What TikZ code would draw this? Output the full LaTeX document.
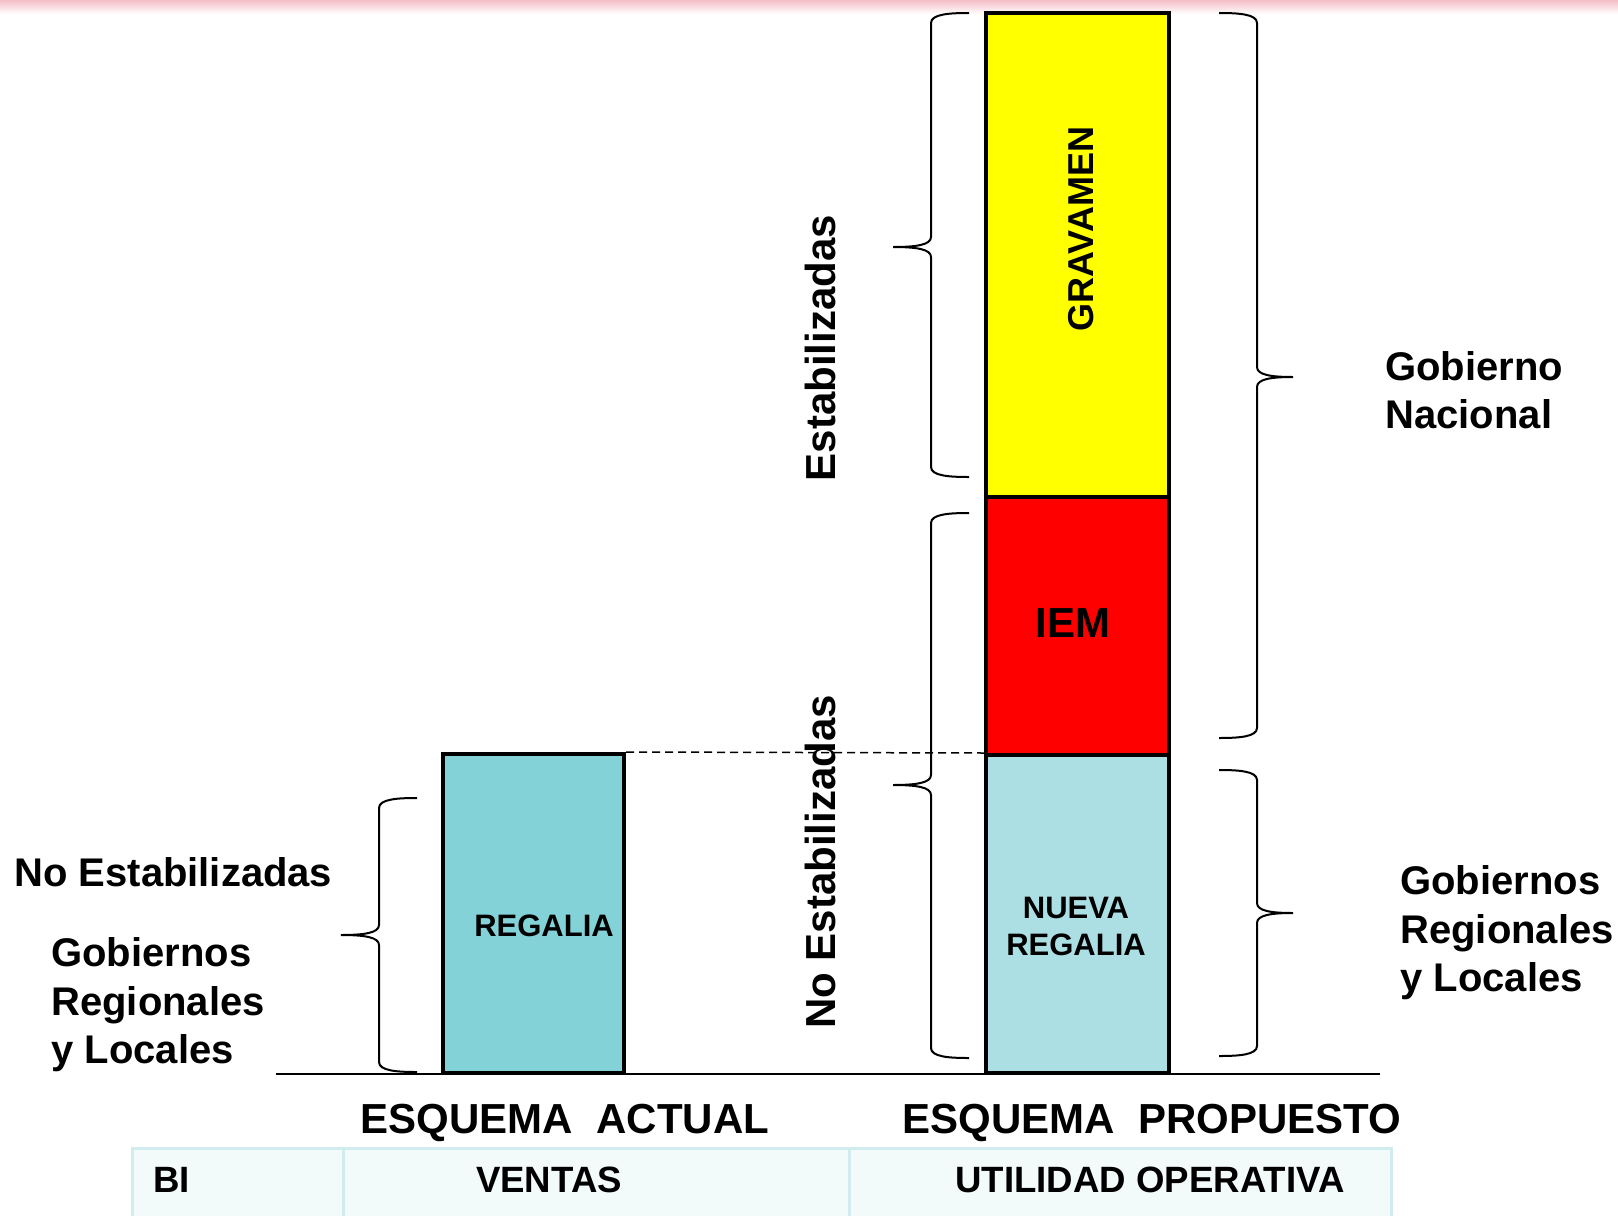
\documentclass[tikz,border=0pt]{standalone}
\usepackage{fontspec}
\setmainfont{Liberation Sans}
\definecolor{regA}{RGB}{131,210,216}
\definecolor{regB}{RGB}{172,223,227}
\definecolor{tabfill}{RGB}{243,250,250}
\definecolor{tabline}{RGB}{208,236,238}
\definecolor{topband}{RGB}{244,190,198}
\definecolor{pyellow}{RGB}{255,255,0}
\definecolor{pred}{RGB}{255,0,0}
\newcommand\MyBrace[6]{% xe xv xt yt ym yb
  \draw[brc] (#1,#4) .. controls ({0.5*#1+0.5*#2},#4) and (#2,{#4+1}) .. (#2,{#4+10})
    -- (#2,{#5-10}) .. controls (#2,{#5-2}) and ({0.6*#2+0.4*#3},#5) .. (#3,#5)
    .. controls ({0.6*#2+0.4*#3},#5) and (#2,{#5+2}) .. (#2,{#5+10})
    -- (#2,{#6-10}) .. controls (#2,{#6-1}) and ({0.5*#1+0.5*#2},#6) .. (#1,#6);}
\begin{document}
\begin{tikzpicture}[x=0.5pt,y=-0.5pt,
  bar/.style={draw=black, line width=2pt, inner sep=0pt},
  brc/.style={line width=1pt, draw=black},
  lbl/.style={font=\bfseries\fontsize{20}{24.25}\selectfont, inner sep=0pt, align=left, anchor=west},
  vlbl/.style={font=\bfseries\fontsize{21}{25}\selectfont, inner sep=0pt, rotate=90},
  intxt/.style={font=\bfseries\fontsize{15.5}{18.5}\selectfont, inner sep=0pt, align=center},
  head/.style={font=\bfseries\fontsize{21}{25}\selectfont, inner sep=0pt},
  cell/.style={draw=tabline, fill=tabfill, line width=1.5pt, inner sep=0pt, minimum height=46pt},
  tabtxt/.style={font=\bfseries\fontsize{18.3}{22}\selectfont, inner sep=0pt}]
\useasboundingbox (0,0) rectangle (1618,1216);
\clip (0,0) rectangle (1618,1216);
% top band
\shade[top color=topband, bottom color=white] (0,0) rectangle (1618,14);
% table
\node[cell, minimum width=105.5pt] (cbi) at (237.5,1194) {};
\node[cell, minimum width=253pt] (cven) at (596,1194) {};
\node[cell, minimum width=271pt] (cuti) at (1120,1194) {};
\node[tabtxt, anchor=west] (tbi) at (153,1180) {BI};
\node[tabtxt] (tven) at (549,1180) {VENTAS};
\node[tabtxt] (tuti) at (1150,1180) {UTILIDAD OPERATIVA};
% baseline
\coordinate (b0) at (276,1074);
\coordinate (b1) at (1380,1074);
\draw[line width=1pt] (b0) -- (b1);
% bars
\node[bar, fill=regA, minimum width=90.5pt, minimum height=159.5pt] (regalia) at (533.5,913.5) {};
\node[bar, fill=pyellow, minimum width=91.5pt, minimum height=242pt] (grav) at (1077.5,255) {};
\node[bar, fill=pred, minimum width=91.5pt, minimum height=129pt] (iem) at (1077.5,626) {};
\node[bar, fill=regB, minimum width=91.5pt, minimum height=159pt] (nueva) at (1077.5,914) {};
\draw[dashed, line width=0.75pt, dash pattern=on 4pt off 2.5pt] (regalia.north east) -- (nueva.north west);
% bar texts
\node[intxt] (tregalia) at (544,926) {REGALIA};
\node[vlbl, font=\bfseries\fontsize{18}{22}\selectfont] (tgrav) at (1081,229) {GRAVAMEN};
\node[head] (tiem) at (1073,623) {IEM};
\node[intxt] (tnueva) at (1076,926) {NUEVA\\REGALIA};
% braces
\MyBrace{969}{931}{893}{13}{247}{477}
\MyBrace{969}{931}{893}{513}{785}{1058}
\MyBrace{417}{379}{341}{798}{935}{1072}
\MyBrace{1219}{1257}{1293}{13}{377}{738}
\MyBrace{1219}{1257}{1293}{770}{913}{1056}
% labels
\node[vlbl] (estab) at (820,348) {Estabilizadas};
\node[vlbl] (noestab) at (820,862) {No Estabilizadas};
\node[lbl] (lno) at (14,872) {No Estabilizadas};
\node[lbl] (lgob) at (51,1005) {Gobiernos\\Regionales\\y Locales};
\node[lbl] (rnac) at (1385,390) {Gobierno\\Nacional};
\node[lbl] (rgob) at (1400,933) {Gobiernos\\Regionales\\y Locales};
% headings
\node[head] (hact) at (565,1123) {ESQUEMA~~ACTUAL};
\node[head] (hprop) at (1152,1123) {ESQUEMA~~PROPUESTO};
\end{tikzpicture}
\end{document}
